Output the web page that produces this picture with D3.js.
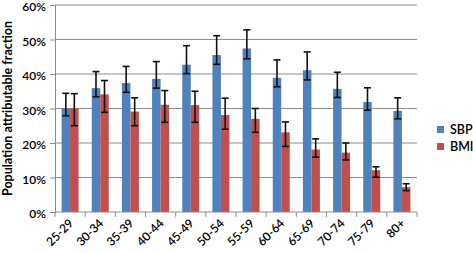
<!DOCTYPE html>
<html lang="en">
<head>
<meta charset="UTF-8">
<title>Population attributable fraction</title>
<script src="https://d3js.org/d3.v7.min.js"></script>
<style>
  body { margin: 0; background: #fff; }
  text { font-family: Lato, "Open Sans", sans-serif; fill: #000; }
</style>
</head>
<body>
<div id="chart"></div>
<script>
const ageGroups = ["25-29","30-34","35-39","40-44","45-49","50-54","55-59","60-64","65-69","70-74","75-79","80+"];
const sbpValue = [30.0, 35.9, 37.4, 38.6, 42.7, 45.5, 47.4, 38.9, 41.1, 35.7, 31.9, 29.3];
const sbpUpper = [34.4, 40.7, 42.2, 43.6, 48.2, 51.1, 52.8, 44.1, 46.4, 40.5, 36.0, 33.1];
const sbpLower = [27.9, 33.4, 34.7, 35.9, 40.1, 42.8, 44.4, 36.3, 38.3, 33.2, 29.5, 27.0];
const bmiValue = [30.0, 34.1, 29.1, 31.1, 31.0, 28.1, 27.0, 23.1, 18.1, 17.2, 12.1, 7.2];
const bmiUpper = [34.3, 38.1, 33.1, 35.2, 35.0, 33.0, 30.0, 26.1, 21.2, 20.0, 13.1, 8.2];
const bmiLower = [25.0, 28.9, 25.0, 26.0, 26.0, 24.0, 23.1, 19.0, 15.9, 15.1, 10.1, 6.2];
const yTicks = [0, 10, 20, 30, 40, 50, 60];
const seriesNames = ["SBP", "BMI"];
const colors = ["#4F81BD", "#C0504D"];

const W = 473, H = 253;
const m = { top: 5, left: 55, right: 56, bottom: 41 };
const w = W - m.left - m.right, h = H - m.top - m.bottom;

const svg = d3.select("#chart").append("svg")
  .attr("width", W).attr("height", H);
const g = svg.append("g").attr("transform", `translate(${m.left},${m.top})`);

const x = d3.scaleBand().domain(ageGroups).range([0, w]);
const y = d3.scaleLinear().domain([0, 60]).range([h, 0]);
const x1 = d3.scaleBand().domain(seriesNames).range([0, 17]);
const off = (x.bandwidth() - 17) / 2;

// gridlines
g.selectAll(".grid").data(yTicks.slice(1)).join("line")
  .attr("x1", 0).attr("x2", w)
  .attr("y1", d => y(d)).attr("y2", d => y(d))
  .attr("stroke", "#8c8c8c").attr("stroke-width", 1);

const series = [
  { name: "SBP", v: sbpValue, hi: sbpUpper, lo: sbpLower },
  { name: "BMI", v: bmiValue, hi: bmiUpper, lo: bmiLower }
];

series.forEach((s, si) => {
  const rows = ageGroups.map((a, i) => ({ a, v: s.v[i], hi: s.hi[i], lo: s.lo[i] }));
  const bx = d => x(d.a) + off + x1(s.name);
  const cx = d => bx(d) + x1.bandwidth() / 2;
  g.selectAll(".bar" + si).data(rows).join("rect")
    .attr("x", bx)
    .attr("y", d => y(d.v))
    .attr("width", x1.bandwidth())
    .attr("height", d => h - y(d.v))
    .attr("fill", colors[si]);
  const eb = g.selectAll(".err" + si).data(rows).join("g")
    .attr("stroke", "#111").attr("stroke-width", 1.6);
  eb.append("line")
    .attr("x1", cx).attr("x2", cx)
    .attr("y1", d => y(d.hi)).attr("y2", d => y(d.lo));
  eb.append("line")
    .attr("x1", d => cx(d) - 3.5).attr("x2", d => cx(d) + 3.5)
    .attr("y1", d => y(d.hi)).attr("y2", d => y(d.hi));
  eb.append("line")
    .attr("x1", d => cx(d) - 3.5).attr("x2", d => cx(d) + 3.5)
    .attr("y1", d => y(d.lo)).attr("y2", d => y(d.lo));
});

// y axis
const yAxis = g.append("g")
  .call(d3.axisLeft(y).tickValues(yTicks).tickFormat(d => d + "%").tickSize(5).tickPadding(4));
yAxis.selectAll("line, path").attr("stroke", "#8c8c8c");
yAxis.selectAll("text").attr("font-size", 12).attr("dy", "0.48em")
  .style("font-family", "Lato, sans-serif").style("font-weight", 600);

// x axis with ticks on band boundaries
const xAxis = g.append("g").attr("transform", `translate(0,${h})`);
xAxis.append("line").attr("x1", 0).attr("x2", w).attr("stroke", "#8c8c8c");
xAxis.selectAll(".tk").data(ageGroups.concat([null])).join("line")
  .attr("x1", (d, i) => i * x.step()).attr("x2", (d, i) => i * x.step())
  .attr("y1", 0).attr("y2", 5).attr("stroke", "#8c8c8c");
xAxis.selectAll(".lbl").data(ageGroups).join("text")
  .attr("text-anchor", "end")
  .attr("font-size", 12).attr("font-weight", 600)
  .attr("transform", d => `translate(${x(d) + x.bandwidth() / 2 + 4},${12}) rotate(-45)`)
  .text(d => d);

// y title
svg.append("text")
  .attr("transform", `translate(12,${m.top + h / 2}) rotate(-90)`)
  .attr("text-anchor", "middle")
  .attr("font-size", 12.5).attr("font-weight", "bold")
  .text("Population attributable fraction");

// legend
const lg = svg.append("g").attr("transform", "translate(437,126)");
seriesNames.forEach((n, i) => {
  lg.append("rect").attr("x", 0).attr("y", i * 17).attr("width", 7).attr("height", 7).attr("fill", colors[i]);
  lg.append("text").attr("x", 13).attr("y", i * 17 + 7.5).attr("font-size", 12.5).attr("font-weight", 600).text(n);
});
</script>
</body>
</html>
